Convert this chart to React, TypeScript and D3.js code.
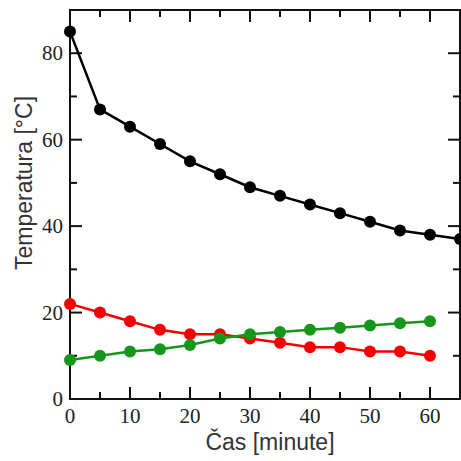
import { useRef, useEffect } from 'react'
import * as d3 from 'd3'

// time in minutes
const times = [0, 5, 10, 15, 20, 25, 30, 35, 40, 45, 50, 55, 60, 65]
const blackTemp = [85, 67, 63, 59, 55, 52, 49, 47, 45, 43, 41, 39, 38, 37]
const redTemp = [22, 20, 18, 16, 15, 15, 14, 13, 12, 12, 11, 11, 10]
const greenTemp = [9, 10, 11, 11.5, 12.5, 14, 15, 15.5, 16, 16.5, 17, 17.5, 18]
const xTicks = [0, 10, 20, 30, 40, 50, 60]
const yTicks = [0, 20, 40, 60, 80]

export default function App() {
  const chartRef = useRef<HTMLDivElement>(null)

  useEffect(() => {
    const container = chartRef.current
    if (container === null) return
    container.innerHTML = ''

    const width = 461
    const height = 461
    const margin = { top: 10, right: 1, bottom: 62, left: 70 }
    const w = width - margin.left - margin.right
    const h = height - margin.top - margin.bottom

    const svg = d3.select(container).append('svg')
      .attr('width', width)
      .attr('height', height)
      .style('display', 'block')
      .style('background', '#fff')

    const g = svg.append('g')
      .attr('transform', `translate(${margin.left},${margin.top})`)

    const x = d3.scaleLinear().domain([0, 65]).range([0, w])
    const y = d3.scaleLinear().domain([0, 90]).range([h, 0])

    const minorX = d3.range(0, 66, 5)
    const minorY = d3.range(0, 91, 10)

    // frame
    g.append('rect')
      .attr('x', 0).attr('y', 0)
      .attr('width', w).attr('height', h)
      .attr('fill', 'none')
      .attr('stroke', '#111')
      .attr('stroke-width', 2)

    // ticks pointing inward on all four sides
    const tick = (x1: number, y1: number, x2: number, y2: number) =>
      g.append('line')
        .attr('x1', x1).attr('y1', y1).attr('x2', x2).attr('y2', y2)
        .attr('stroke', '#111').attr('stroke-width', 2)

    minorX.forEach(function(v) {
      if (v === 0 || v === 65) return
      const len = v % 10 === 0 ? 12 : 7
      tick(x(v), h, x(v), h - len)
      tick(x(v), 0, x(v), len)
    })
    minorY.forEach(function(v) {
      if (v === 0 || v === 90) return
      const len = v % 20 === 0 ? 12 : 7
      tick(0, y(v), len, y(v))
      tick(w, y(v), w - len, y(v))
    })

    // tick labels
    g.selectAll('.xlab').data(xTicks).enter().append('text')
      .attr('x', function(d) { return x(d) })
      .attr('y', h + 24)
      .attr('text-anchor', 'middle')
      .attr('font-family', '"Liberation Serif", serif')
      .attr('font-size', 21)
      .attr('fill', '#222')
      .text(function(d) { return d })

    g.selectAll('.ylab').data(yTicks).enter().append('text')
      .attr('x', -7)
      .attr('y', function(d) { return y(d) + 7 })
      .attr('text-anchor', 'end')
      .attr('font-family', '"Liberation Serif", serif')
      .attr('font-size', 21)
      .attr('fill', '#222')
      .text(function(d) { return d })

    // axis titles
    svg.append('text')
      .attr('x', 270)
      .attr('y', 450)
      .attr('text-anchor', 'middle')
      .attr('font-family', '"Liberation Sans", sans-serif')
      .attr('font-size', 23)
      .attr('fill', '#333')
      .text('Čas [minute]')

    svg.append('text')
      .attr('transform', 'rotate(-90)')
      .attr('x', -183)
      .attr('y', 32)
      .attr('text-anchor', 'middle')
      .attr('font-family', '"Liberation Sans", sans-serif')
      .attr('font-size', 23)
      .attr('fill', '#333')
      .text('Temperatura [°C]')

    const series = [
      { values: blackTemp, color: '#000' },
      { values: redTemp, color: '#f40000' },
      { values: greenTemp, color: '#16961a' }
    ]

    const plot = g.append('g')
    series.forEach(function(s) {
      const pts = s.values.map(function(v, i) { return [times[i], v] as [number, number] })
      plot.append('path')
        .datum(pts)
        .attr('fill', 'none')
        .attr('stroke', s.color)
        .attr('stroke-width', 2.5)
        .attr('d', d3.line<[number, number]>()
          .x(function(d) { return x(d[0]) })
          .y(function(d) { return y(d[1]) }))
      plot.selectAll(null).data(pts).enter().append('circle')
        .attr('cx', function(d) { return x(d[0]) })
        .attr('cy', function(d) { return y(d[1]) })
        .attr('r', 6)
        .attr('fill', s.color)
    })
  })

  return (
    <div ref={chartRef} style={{ position: 'absolute', left: 0, top: 0 }}>
    </div>
  )
}
